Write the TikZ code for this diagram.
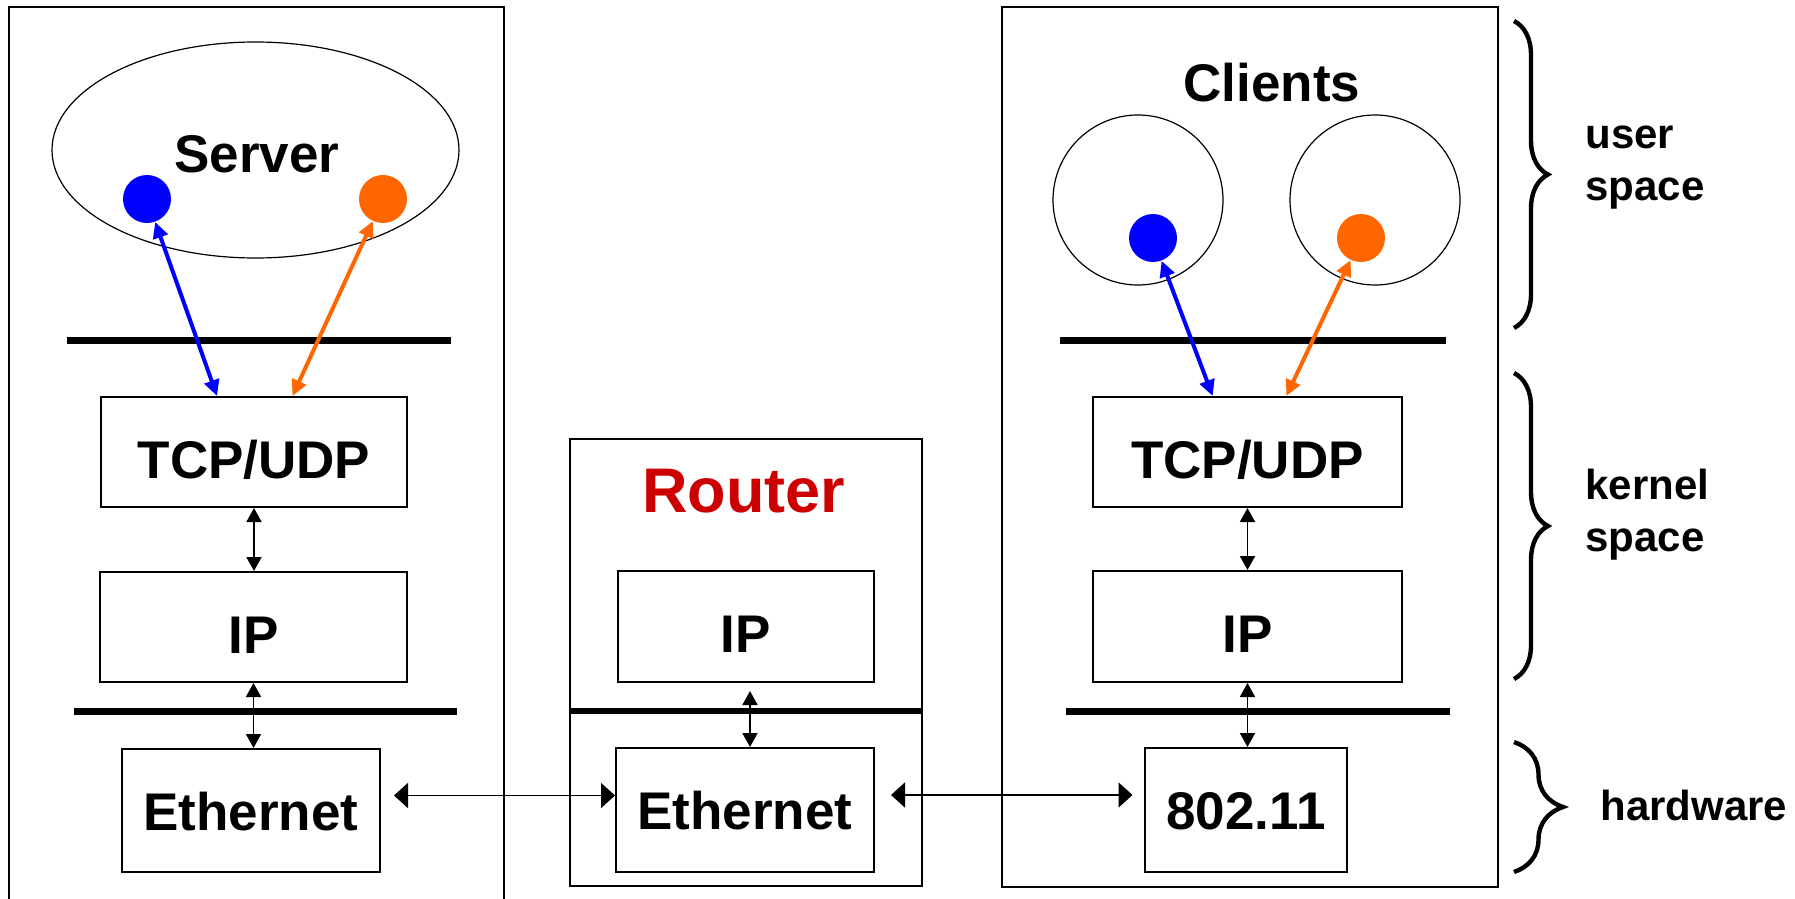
\documentclass[tikz,border=0pt]{standalone}
\usepackage{fontspec}
\setmainfont{Liberation Sans}
\usetikzlibrary{arrows.meta,shapes.geometric,decorations.pathreplacing,calc}
\definecolor{sockblue}{RGB}{0,0,255}
\definecolor{sockorange}{RGB}{255,102,0}
\definecolor{routerred}{RGB}{204,0,0}

\begin{document}
\begin{tikzpicture}[x=0.5pt,y=-0.5pt,
  hostbox/.style={draw, line width=0.8pt, rectangle, inner sep=0pt},
  layer/.style={draw, line width=1pt, rectangle, inner sep=0pt,
    font=\bfseries\fontsize{26.5pt}{30pt}\selectfont, text height=26pt, text depth=0pt},
  linklayer/.style={layer, text height=19.5pt},
  title/.style={font=\bfseries\fontsize{26.5pt}{30pt}\selectfont, inner sep=0pt, anchor=base},
  proc/.style={draw, line width=0.6pt, inner sep=0pt},
  sock/.style={circle, inner sep=0pt, minimum size=24pt},
  boundary/.style={line width=3.5pt},
  stackarrow/.style={line width=0.9pt, {Triangle[length=7pt,width=7.5pt]}-{Triangle[length=7pt,width=7.5pt]}},
  wirearrow/.style={line width=0.9pt, {Triangle[length=7pt,width=12.5pt]}-{Triangle[length=7pt,width=12.5pt]}},
  sockarrow/.style={line width=2pt, {Triangle[length=8pt,width=7.5pt]}-{Triangle[length=8pt,width=7.5pt]}},
  spacebrace/.style={line width=2.2pt, decorate, decoration={brace, amplitude=#1}},
  spacelabel/.style={font=\bfseries\fontsize{21pt}{26pt}\selectfont, inner sep=0pt, anchor=base west, align=left},
]
\clip (0,0) rectangle (1795,899);

% ---------------- server host ----------------
\node[hostbox, minimum width=247.5pt, minimum height=461.5pt] (sbox) at (256.5,468.5) {};
\node[proc, ellipse, minimum width=203.5pt, minimum height=108pt] (sell) at (255.5,150) {};
\node[title] (stxt) at (257,172) {Server};
\node[sock, fill=sockblue] (sbd) at (147,199) {};
\node[sock, fill=sockorange] (sod) at (383,199) {};
\draw[boundary] (67,340) -- (451,340);
\node[layer, minimum width=153pt, minimum height=55pt] (stcp) at (254,452) {TCP/UDP};
\node[layer, minimum width=153.5pt, minimum height=55pt] (sip) at (253.5,627) {IP};
\draw[boundary] (74,711) -- (457,711);
\node[linklayer, minimum width=129pt, minimum height=61.5pt] (seth) at (251,810.5) {Ethernet};

% ---------------- router ----------------
\node[hostbox, minimum width=176pt, minimum height=223.5pt] (rbox) at (746,662.5) {};
\node[title, font=\bfseries\fontsize{31.5pt}{36pt}\selectfont, text=routerred] (rtxt) at (744,512) {Router};
\node[layer, minimum width=128pt, minimum height=55.5pt] (rip) at (746,626.5) {IP};
\draw[boundary, line width=3pt] (570,711) -- (922,711);
\node[linklayer, minimum width=129pt, minimum height=62pt] (reth) at (745,810) {Ethernet};

% ---------------- client host ----------------
\node[hostbox, minimum width=248pt, minimum height=440pt] (cbox) at (1250,447) {};
\node[title] (ctxt) at (1272,102) {Clients};
\node[proc, circle, minimum size=85pt] (cc1) at (1138,200) {};
\node[proc, circle, minimum size=85pt] (cc2) at (1375,200) {};
\node[sock, fill=sockblue] (cbd) at (1153,238) {};
\node[sock, fill=sockorange] (cod) at (1361,238) {};
\draw[boundary] (1060,340) -- (1446,340);
\node[layer, minimum width=154.5pt, minimum height=55pt] (ctcp) at (1247.5,452) {TCP/UDP};
\node[layer, minimum width=154.5pt, minimum height=55.5pt] (cip) at (1247.5,626.5) {IP};
\draw[boundary] (1066,711) -- (1450,711);
\node[linklayer, minimum width=101pt, minimum height=62pt] (cwl) at (1246,810) {802.11};

% ---------------- socket connections ----------------
\draw[sockarrow, sockblue] (sbd) -- ($(stcp.north west)!0.38!(stcp.north east)$);
\draw[sockarrow, sockorange] (sod) -- ($(stcp.north west)!0.625!(stcp.north east)$);
\draw[sockarrow, sockblue] (cbd) -- ($(ctcp.north west)!0.388!(ctcp.north east)$);
\draw[sockarrow, sockorange] (cod) -- ($(ctcp.north west)!0.625!(ctcp.north east)$);

% ---------------- stack connections ----------------
\draw[stackarrow] (stcp.south) -- (stcp.south |- sip.north);
\draw[stackarrow] (sip.south) -- (sip.south |- seth.north);
\coordinate (rup) at ($(rip.south)+(4,8)$);
\draw[stackarrow] (rup) -- (rup |- reth.north);
\draw[stackarrow] (ctcp.south) -- (ctcp.south |- cip.north);
\draw[stackarrow] (cip.south) -- (cip.south |- cwl.north);

% ---------------- links ----------------
\coordinate (wa) at ($(seth.east)+(13,-15)$);
\draw[wirearrow] (wa) -- (wa -| reth.west);
\coordinate (wb) at ($(reth.east)+(16,-15)$);
\coordinate (wc) at ($(cwl.west)+(-11.5,-15)$);
\draw[wirearrow] (wb) -- (wc);

% ---------------- address space braces ----------------
\coordinate (ub1) at (1514,21);  \coordinate (ub2) at (1514,328);
\coordinate (kb1) at (1514,373); \coordinate (kb2) at (1514,679);
\coordinate (hb1) at (1514,742); \coordinate (hb2) at (1514,872);
\draw[spacebrace=17pt] (ub1) -- (ub2);
\draw[spacebrace=17pt] (kb1) -- (kb2);
\draw[spacebrace=24.5pt] (hb1) -- (hb2);
\node[spacelabel] (ulab) at (1585,200) {user\\space};
\node[spacelabel] (klab) at (1585,551) {kernel\\space};
\node[spacelabel] (hlab) at (1600,820) {hardware};
\end{tikzpicture}
\end{document}
